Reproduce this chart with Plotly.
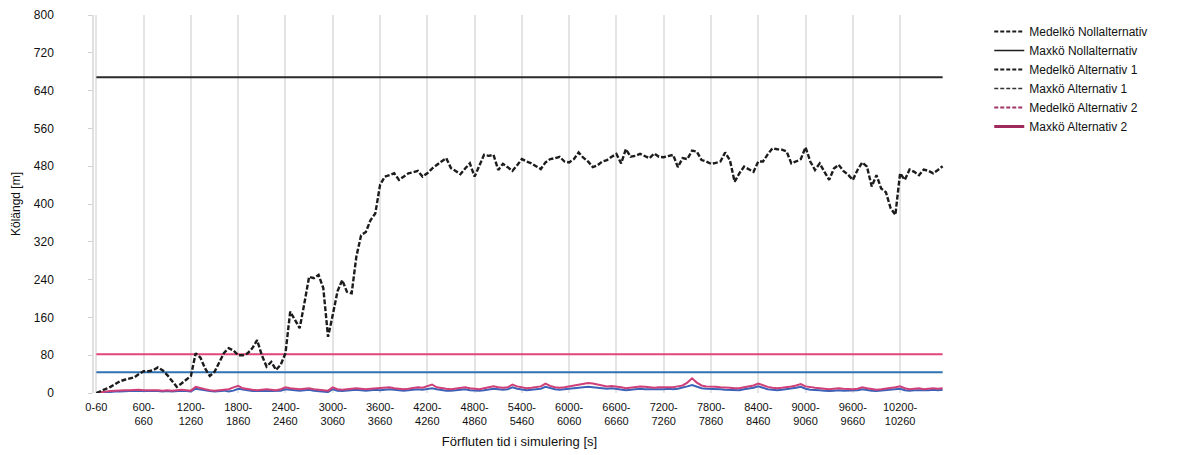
import plotly.graph_objects as go

# ---- categories (60 s bins, 0 .. 10800 s) ----
bin_starts = list(range(0, 10800, 60))
categories = [f"{s}-{s + 60}" for s in bin_starts]

tick_categories = [f"{s}-{s + 60}" for s in range(0, 10800, 600)]
tick_labels = ["0-60"] + [f"{s}-<br>{s + 60}" for s in range(600, 10800, 600)]

# ---- series values (m) ----
medelko_noll = [
    0, 4, 9, 13, 19, 25, 28, 30, 33, 40,
    46, 46, 48, 54, 48, 38, 25, 13, 20, 28,
    36, 84, 75, 52, 36, 45, 65, 85, 95, 90,
    80, 80, 84, 95, 112, 80, 56, 66, 49, 60,
    84, 172, 155, 137, 190, 246, 243, 250, 222, 119,
    165, 215, 239, 214, 211, 289, 334, 341, 366, 380,
    440, 458, 461, 465, 451, 458, 465, 467, 470, 458,
    465, 475, 483, 490, 497, 476, 470, 463, 475, 486,
    458, 482, 504, 502, 504, 472, 485, 478, 470, 482,
    495, 490, 486, 480, 474, 488, 495, 497, 500, 490,
    488, 495, 509, 498, 490, 478, 482, 490, 493, 500,
    506, 486, 516, 500, 502, 506, 502, 497, 507, 500,
    499, 502, 504, 478, 497, 495, 513, 511, 493, 490,
    485, 487, 490, 509, 493, 447, 465, 479, 473, 468,
    490, 490, 505, 518, 516, 515, 511, 486, 490, 495,
    520, 490, 472, 486, 468, 451, 475, 483, 470, 462,
    451, 472, 488, 479, 437, 461, 433, 425, 391, 377,
    465, 451, 473, 468, 461, 473, 470, 465, 472, 480,
]
maxko_noll = 668
maxko_alt1 = 44
maxko_alt2 = 82

medelko_alt1 = [
    0, 1, 2, 2, 3, 3, 4, 4, 4, 5,
    4, 4, 5, 4, 3, 4, 3, 4, 5, 4,
    3, 9, 7, 5, 4, 3, 4, 5, 3, 5,
    9, 7, 5, 4, 4, 5, 5, 4, 4, 5,
    8, 7, 6, 5, 6, 7, 5, 4, 3, 2,
    8, 5, 4, 5, 6, 7, 6, 5, 6, 7,
    6, 7, 8, 7, 6, 5, 6, 7, 8, 7,
    9, 10, 8, 6, 5, 5, 6, 7, 8, 6,
    5, 5, 6, 8, 9, 8, 7, 8, 12, 9,
    8, 6, 7, 8, 9, 13, 10, 8, 7, 8,
    9, 10, 11, 12, 13, 12, 11, 10, 9, 10,
    9, 8, 6, 7, 8, 9, 8, 8, 7, 8,
    8, 9, 8, 9, 11, 14, 17, 13, 10, 9,
    9, 8, 8, 7, 7, 6, 6, 8, 9, 11,
    14, 11, 8, 7, 6, 7, 8, 9, 11, 13,
    9, 7, 7, 6, 5, 4, 5, 6, 5, 5,
    5, 6, 8, 6, 5, 4, 5, 6, 6, 8,
    9, 6, 5, 6, 6, 5, 6, 7, 6, 7,
]
medelko_alt2 = [
    0, 2, 3, 4, 5, 5, 6, 6, 7, 7,
    6, 6, 7, 6, 5, 6, 5, 6, 7, 6,
    5, 13, 10, 8, 6, 5, 6, 7, 8, 12,
    15, 10, 8, 7, 6, 7, 8, 7, 6, 8,
    12, 10, 9, 8, 9, 10, 8, 7, 6, 5,
    12, 8, 7, 8, 9, 10, 9, 8, 9, 10,
    10, 11, 12, 10, 9, 8, 9, 10, 12, 11,
    14, 18, 12, 10, 9, 8, 9, 10, 12, 10,
    9, 8, 10, 12, 14, 12, 11, 12, 18, 14,
    12, 10, 11, 12, 14, 20, 15, 12, 11, 12,
    14, 16, 18, 20, 21, 20, 18, 16, 14, 15,
    14, 12, 10, 11, 12, 14, 13, 12, 11, 12,
    12, 13, 12, 14, 16, 22, 31, 22, 16, 14,
    14, 13, 12, 12, 11, 10, 10, 12, 14, 16,
    20, 16, 13, 11, 10, 11, 12, 14, 16, 19,
    14, 12, 11, 10, 9, 8, 9, 10, 9, 8,
    8, 9, 12, 10, 8, 7, 8, 9, 10, 12,
    14, 10, 8, 9, 10, 8, 9, 10, 9, 10,
]

series_names = [
    "Medelkö Nollalternativ",
    "Maxkö Nollalternativ",
    "Medelkö Alternativ 1",
    "Maxkö Alternativ 1",
    "Medelkö Alternativ 2",
    "Maxkö Alternativ 2",
]

BLACK = "#1c1c1c"
PINK = "#e2457c"
PINK_CURVE = "#cf3f78"
BLUE = "#2f73b4"
BLUE_CURVE = "#3c62b8"
TXT = "#111111"

fig = go.Figure()

# chart marks
fig.add_trace(go.Scatter(x=categories, y=[maxko_alt1] * len(categories), mode="lines",
                         line=dict(color=BLUE, width=2), showlegend=False, name=series_names[3]))
fig.add_trace(go.Scatter(x=categories, y=[maxko_alt2] * len(categories), mode="lines",
                         line=dict(color=PINK, width=2.2), showlegend=False, name=series_names[5]))
fig.add_trace(go.Scatter(x=categories, y=[maxko_noll] * len(categories), mode="lines",
                         line=dict(color="#2a2a2a", width=2), showlegend=False, name=series_names[1]))
fig.add_trace(go.Scatter(x=categories, y=medelko_alt1, mode="lines",
                         line=dict(color=BLUE_CURVE, width=2), showlegend=False, name=series_names[2]))
fig.add_trace(go.Scatter(x=categories, y=medelko_alt2, mode="lines",
                         line=dict(color=PINK_CURVE, width=2), showlegend=False, name=series_names[4]))
fig.add_trace(go.Scatter(x=categories, y=medelko_noll, mode="lines",
                         line=dict(color=BLACK, width=2.4, dash="5px,2px"), showlegend=False,
                         name=series_names[0]))

# legend entries as drawn in the reference legend
legend_styles = [
    dict(color=BLACK, width=2, dash="4px,2px"),
    dict(color=BLACK, width=1.5),
    dict(color=BLACK, width=2, dash="4px,2px"),
    dict(color="#333333", width=1.5, dash="4px,2px"),
    dict(color="#a23466", width=2, dash="4px,2px"),
    dict(color="#a02a5c", width=3),
]
for name, style in zip(series_names, legend_styles):
    fig.add_trace(go.Scatter(x=[None], y=[None], mode="lines", line=style, name=name,
                             showlegend=True))

fig.update_layout(
    width=1184,
    height=455,
    margin=dict(l=86, r=247, t=7, b=70, autoexpand=False),
    paper_bgcolor="white",
    plot_bgcolor="white",
    font=dict(family="Liberation Sans, Arial, sans-serif", size=12, color=TXT),
    legend=dict(
        x=1.052, y=0.995, xanchor="left", yanchor="top",
        font=dict(size=12, color=TXT),
        tracegroupgap=0, itemwidth=30,
        bgcolor="rgba(0,0,0,0)",
    ),
    xaxis=dict(
        type="category",
        categoryorder="array",
        categoryarray=categories,
        range=[-0.5, 179.5],
        automargin=False,
        tickmode="array",
        tickvals=tick_categories,
        ticktext=tick_labels,
        tickangle=0,
        tickfont=dict(size=11, color=TXT),
        ticklabelstandoff=6,
        showgrid=True,
        gridcolor="#e4e4e4",
        gridwidth=1.5,
        showline=False,
        zeroline=False,
        title=dict(text="Förfluten tid i simulering [s]", font=dict(size=13), standoff=10),
    ),
    yaxis=dict(
        range=[0, 800],
        automargin=False,
        tickmode="array",
        tickvals=list(range(0, 801, 80)),
        ticks="outside",
        ticklen=4,
        tickcolor="#d0d0d0",
        tickfont=dict(size=12, color=TXT),
        ticklabelstandoff=32,
        showgrid=False,
        zeroline=False,
        showline=True,
        linecolor="#e0e0e0",
        linewidth=1.5,
        title=dict(text="Kölängd [m]", font=dict(size=12), standoff=11),
    ),
)

fig.write_html("out.html")
